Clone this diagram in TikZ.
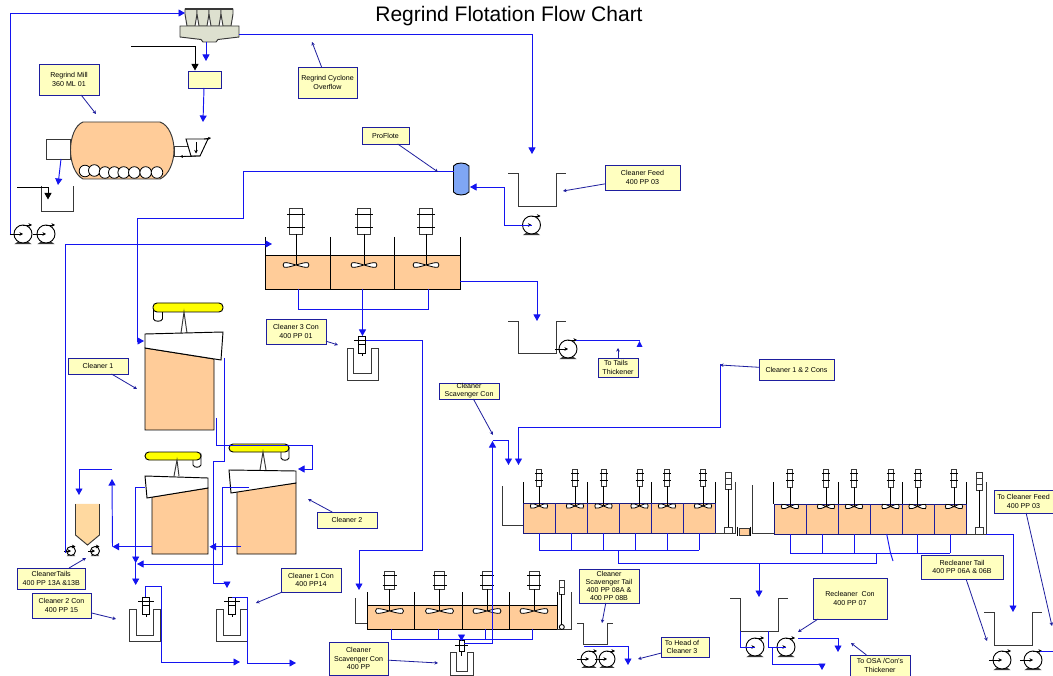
\documentclass[tikz,border=0pt]{standalone}
\usepackage{fontspec}
\setmainfont{Liberation Sans}
\usetikzlibrary{arrows.meta,calc}
\definecolor{pipeblue}{HTML}{1414F0}
\definecolor{navy}{HTML}{1E1E9E}
\definecolor{labfill}{HTML}{FFFFC0}
\definecolor{peach}{HTML}{FFCC99}
\definecolor{hopper}{HTML}{FFD9A0}
\definecolor{cyc}{HTML}{DDE0CF}
\definecolor{froth}{HTML}{FFFF00}
\definecolor{reagent}{HTML}{7FA6F5}
\definecolor{eqline}{HTML}{383838}
\tikzset{
 pipe/.style={draw=pipeblue,line width=0.95pt},
 pipea/.style={pipe,-{Triangle[length=6.5pt,width=7pt]}},
 feed/.style={draw=black,line width=0.95pt,-{Triangle[length=6.5pt,width=7pt]}},
 leader/.style={draw=navy,line width=0.8pt,-{Stealth[length=3.5pt,width=3.5pt]}},
 eq/.style={draw=eqline,line width=0.95pt},
 cell/.style={draw=black,line width=0.95pt,fill=peach},
 cellb/.style={draw=navy!80!black,line width=0.95pt,fill=peach},
 white eq/.style={draw=black,line width=0.95pt,fill=white},
 lab/.style={draw=navy,line width=0.95pt,fill=labfill,inner sep=0pt,outer sep=0pt,align=center,font=\fontsize{7.1}{8.3}\selectfont,text=black},
}
\newcommand{\lab}[6]{\node[lab,minimum width={(#4-#2)*1pt},minimum height={(#5-#3)*1pt}] (#1) at ({(#2+#4)/2},{(#3+#5)/2}) {#6};}
\newcommand{\pump}[4]{%
 \coordinate (#1) at (#2,#3);
 \fill[eqline] ({#2-0.35*#4},{#3+0.7*#4}) -- ({#2-0.95*#4},{#3+1.12*#4}) -- ({#2+0.95*#4},{#3+1.12*#4}) -- ({#2+0.35*#4},{#3+0.7*#4}) -- cycle;
 \fill[white] ({#2-0.45*#4},{#3+0.95*#4}) -- ({#2+0.45*#4},{#3+0.95*#4}) -- (#2,{#3+0.7*#4}) -- cycle;
 \draw[draw=black,line width=0.9pt,fill=white] (#1) circle ({#4*1pt});
 \draw[black,line width=0.9pt,-{Stealth[length=3.5pt,width=3.5pt]}] ({#2-1.45*#4},#3) -- (#1);
 \draw[black,line width=0.9pt,-{Stealth[length=3.5pt,width=3.5pt]}] (#2,{#3-#4}) -- ({#2+#4},{#3-#4});
}
\newcommand{\utank}[6]{\draw[eq] (#1,#5) -- (#2,#5) -- (#2,#6) -- (#3,#6) -- (#3,#5) -- (#4,#5);}
\newcommand{\impel}[4]{%
 \draw[draw=black,line width=0.8pt,fill=white] (#1,#2) .. controls ({#1+0.45*#3},{#2-0.5*#4}) and ({#1+0.8*#3},{#2-#4}) .. ({#1+#3},{#2-0.7*#4}) .. controls ({#1+1.1*#3},{#2-0.3*#4}) and ({#1+1.1*#3},{#2+0.3*#4}) .. ({#1+#3},{#2+0.7*#4}) .. controls ({#1+0.8*#3},{#2+#4}) and ({#1+0.45*#3},{#2+0.5*#4}) .. (#1,#2);
 \draw[draw=black,line width=0.8pt,fill=white] (#1,#2) .. controls ({#1-0.45*#3},{#2-0.5*#4}) and ({#1-0.8*#3},{#2-#4}) .. ({#1-#3},{#2-0.7*#4}) .. controls ({#1-1.1*#3},{#2-0.3*#4}) and ({#1-1.1*#3},{#2+0.3*#4}) .. ({#1-#3},{#2+0.7*#4}) .. controls ({#1-0.8*#3},{#2+#4}) and ({#1-0.45*#3},{#2+0.5*#4}) .. (#1,#2);
}
\newcommand{\agit}[9]{%
 \draw[eq,fill=white] ({#1-#5},#2) rectangle ({#1+#5},#3);
 \draw[black,line width=0.9pt] ({#1-#6},#7) -- ({#1+#6},#7) ({#1-#6},#8) -- ({#1+#6},#8);
 \draw[black,line width=0.9pt] (#1,#3) -- (#1,#4);
 \impel{#1}{#4}{#9}{3}
}
\newcommand{\launder}[8]{%
 \draw[eq] (#1,#5) -- (#1,#7) -- (#2,#7) -- (#2,#5) -- (#4,#5) -- (#4,#6) -- (#3,#6) -- (#3,#5) -- cycle;
}
\newcommand{\vpump}[2]{%
 \draw[black,line width=0.8pt] (#1,{#2+8}) -- (#1,{#2+20});
 \draw[black,line width=0.9pt,fill=white] ({#1-3.2},{#2+8}) rectangle ({#1+3.2},{#2+17});
 \draw[black,line width=0.9pt,fill=white] ({#1-3.8},#2) rectangle ({#1+3.8},{#2+8});
 \draw[black,line width=0.9pt] ({#1-8},{#2+4}) -- ({#1+8},{#2+4});
}
\begin{document}
\begin{tikzpicture}[x=1pt,y=-1pt]
\useasboundingbox (0,0) rectangle (1053,676);
\fill[white] (0,0) rectangle (1053,676);
\node[font=\fontsize{21}{24}\selectfont,inner sep=0pt] (title) at (509,16) {Regrind Flotation Flow Chart};

%% ---------- cyclone ----------
\foreach \x in {185,197,209,221}{
 \draw[eq,fill=cyc] (\x,9) -- ({\x+12},9) -- ({\x+12},14) -- ({\x+10},26) -- ({\x+2},26) -- (\x,14) -- cycle;}
\draw[eq,line width=1.4pt] (185,9) -- (233,9);
\draw[eq,fill=cyc] (180,26) -- (239,26) -- (239,37) -- (218,39.5) -- (216,42) -- (203,42) -- (201,39.5) -- (180,37) -- cycle;
\draw[draw=navy,line width=0.95pt,fill=labfill] (188,71) rectangle (221,88);

%% ---------- mill ----------
\draw[eq,fill=white] (46,139) rectangle (70.5,159);
\draw[eq,fill=white] (174,146) rectangle (191,156);
\draw[eq,fill=peach] (83,122) -- (160,122) .. controls (169,125) and (174,138) .. (174,150) .. controls (174,162) and (169,175) .. (160,179) -- (83,179) .. controls (75,175) and (70.5,162) .. (70.5,150) .. controls (70.5,138) and (75,125) .. (83,122) -- cycle;
\foreach \x/\y in {85/171,94.3/170.5,105/172.5,114.3/172.5,123.7/172.5,134.3/172.5,145.7/172.5,157/172.5}{
 \draw[black,line width=0.8pt,fill=white] (\x,\y) circle (5.8pt);}
\draw[black,line width=0.95pt,fill=white] (186,139) -- (208,139) -- (200,156) -- (191,156) -- cycle;
\draw[black,line width=0.8pt,-{Stealth[length=3.5pt,width=3.5pt]}] (196,142) -- (196,153.5);
\draw[black,line width=0.8pt,-{Stealth[length=3pt,width=3pt]}] (204,139) -- (211,138);
\draw[black,line width=0.8pt,-{Stealth[length=3pt,width=3pt]}] (200,156) -- (180,156.5);
\draw[eq] (41,186) -- (41,211) -- (73,211) -- (73,186);
\coordinate (wa) at (17,187); \coordinate (wb) at (48,199.5);
\draw[feed] (wa) -| (wb);
\coordinate (wc) at (131,46); \coordinate (yb) at (195,70.5);
\draw[feed] (wc) -| (yb);
\pump{pa}{23}{234}{9}
\pump{pb}{46}{234}{9}

%% ---------- reagent tank ----------
\draw[draw=black,line width=0.9pt,fill=reagent] (453.5,166) .. controls (456,162) and (466,162) .. (469,166) -- (469,192) .. controls (466,196) and (456,196) .. (453.5,192) -- cycle;
\utank{508}{518}{556}{566}{173}{206}
\pump{pc}{531.5}{225}{9}

%% ---------- cleaner 3 bank ----------
\draw[cell] (265,255) rectangle (460,289);
\draw[black,line width=0.95pt] (330.5,237) -- (330.5,289) (394.5,237) -- (394.5,289) (265,237) -- (265,255) (460,237) -- (460,255);
\agit{296}{208}{234}{265}{6.5}{9}{214}{227}{12}
\agit{364}{208}{234}{265}{6.5}{9}{214}{227}{12}
\agit{426}{208}{234}{265}{6.5}{9}{214}{227}{12}
\utank{508}{518}{556}{566}{321}{353}
\pump{pd}{568}{349}{9}
\launder{347}{378}{353}{371}{348}{373}{380}{362}
\vpump{362}{336}

%% ---------- flotation cell cleaner 1 ----------
\draw[draw=black,line width=0.9pt,fill=white] (153.5,307) -- (153.5,319) .. controls (154,322) and (162,322) .. (162.5,319) -- (162.5,307) -- cycle;
\draw[draw=black,line width=0.95pt,fill=froth,rounded corners=4pt] (153,303) rectangle (223,312);
\draw[eq] (181,333) -- (184,312) -- (187,333);
\draw[cell] (145,348) -- (214,359) -- (214,430) -- (145,430) -- cycle;
\draw[white eq] (145,334) -- (223,332) -- (221,360) -- (145,348) -- cycle;
%% cleaner 2 right
\draw[draw=black,line width=0.9pt,fill=white] (281,447) -- (281,458) .. controls (282,461) and (288,461) .. (289,458) -- (289,447) -- cycle;
\draw[draw=black,line width=0.95pt,fill=froth,rounded corners=4pt] (229,444) rectangle (289,452);
\draw[eq] (260,470) -- (263,452) -- (266,470);
\draw[cell] (237,491) -- (296,483) -- (296,554) -- (237,554) -- cycle;
\draw[white eq] (229,470) -- (296,471) -- (296,483) -- (231,493) -- cycle;
%% cleaner 2 mid
\draw[draw=black,line width=0.9pt,fill=white] (193,454) -- (193,465) .. controls (194,468) and (200,468) .. (201,465) -- (201,454) -- cycle;
\draw[draw=black,line width=0.95pt,fill=froth,rounded corners=4pt] (145,452) rectangle (201,460);
\draw[eq] (174,476) -- (177,460) -- (179,476);
\draw[cell] (152,497) -- (208,488) -- (208,554) -- (152,554) -- cycle;
\draw[white eq] (145,476) -- (208,478) -- (208,488) -- (147,498) -- cycle;
%% hopper and small pumps
\draw[draw=hopper,fill=hopper] (75.5,504) -- (99.5,504) -- (99.5,535) -- (87.5,545) -- (75.5,535) -- cycle;
\draw[eq] (75.5,504) -- (75.5,535) -- (87.5,545) -- (99.5,535) -- (99.5,504);
\pump{pe}{71}{551}{4.5}
\pump{pf}{95}{551}{4.5}
%% launders
\launder{129.5}{160}{136}{153}{609}{635}{641}{146}
\vpump{146}{597}
\launder{216.5}{247}{223}{240}{609}{635}{641}{232}
\vpump{232}{597}

%% ---------- cleaner scavenger bank ----------
\draw[cell] (367,605) rectangle (557,629);
\draw[black,line width=0.95pt] (414,592) -- (414,629) (462,592) -- (462,629) (509,592) -- (509,629) (367,592) -- (367,605) (557,592) -- (557,605);
\foreach \x in {389.5,439.5,487,534}{\agit{\x}{571}{589}{611}{5}{7}{575}{585}{13}}
\draw[eq] (355,598) -- (355,623) -- (367,623);
\draw[eq] (571,592) -- (571,629.5) -- (557,629.5);
\draw[eq,fill=white] (559.5,580) rectangle (564,594);
\draw[eq] (559.5,587) -- (564,587);
\draw[black,line width=0.9pt] (561.8,594) -- (561.8,625);
\draw[black,line width=0.9pt,fill=white] (561.8,627) circle (2.5pt);
\launder{450}{473}{456}{467}{652}{671}{675}{461.5}
\draw[black,line width=0.8pt] (461.5,650) -- (461.5,656);
\draw[black,line width=0.9pt,fill=white] (459,640) rectangle (464,651);
\draw[black,line width=0.9pt] (455,645) -- (468,645);
\utank{577}{583}{607}{613}{623}{644}
\pump{pg}{589}{659}{8}
\pump{ph}{607}{659}{8}

%% ---------- first recleaner bank ----------
\draw[cellb] (523,503) rectangle (715,533);
\foreach \x in {555.5,587.5,619.5,651.5,683.5}{\draw[navy,line width=0.9pt] (\x,503) -- (\x,533);}
\draw[black,line width=0.95pt] (523,482) -- (523,503) (587.5,482) -- (587.5,503) (651.5,482) -- (651.5,503) (715,482) -- (715,503);
\foreach \x in {539,575,603.5,639.5,667,703}{\agit{\x}{469}{486}{506}{2.5}{4}{473}{480}{8}}
\draw[eq] (502.5,486) -- (502.5,525) -- (523,525);
\draw[eq] (715,533) -- (735,533) -- (735,482);
\draw[eq,fill=white] (725,472) rectangle (731,489);
\draw[eq] (725,478) -- (731,478) (725,484) -- (731,484);
\draw[black,line width=0.9pt] (728,489) -- (728,528);
\draw[eq,fill=white] (724.5,527) rectangle (732,533);
\draw[eq,fill=peach] (739,528) rectangle (749,535);
\draw[black,line width=0.9pt] (737.5,526.5) -- (737.5,536) (750.5,526.5) -- (750.5,536);
\draw[eq] (752.7,485) -- (752.7,533.5) -- (774,533.5);

%% ---------- second recleaner bank ----------
\draw[cellb] (774,504) rectangle (966.5,534);
\foreach \x in {806,838,870.5,902,934}{\draw[navy,line width=0.9pt] (\x,504) -- (\x,534);}
\draw[black,line width=0.95pt] (773.5,482) -- (773.5,504) (838,482) -- (838,504) (902,482) -- (902,504) (966.5,482) -- (966.5,504);
\foreach \x in {790,826,854,890.5,917.5,954}{\agit{\x}{469}{487}{506.5}{2.5}{4}{473}{480}{8}}
\draw[eq] (966.5,534) -- (986,534) -- (986,482);
\draw[eq,fill=white] (976,472) rectangle (982,490);
\draw[eq] (976,478) -- (982,478) (976,484) -- (982,484);
\draw[black,line width=0.9pt] (979,490) -- (979,528);
\draw[eq,fill=white] (975.5,527.5) rectangle (983,534);
\utank{730}{740}{778}{788}{598}{631}
\pump{pi}{755}{647}{9}
\pump{pj}{786}{647}{9}
\utank{984}{994}{1032}{1042}{612}{645}
\pump{pk}{1002}{660}{9}
\pump{pl}{1033}{660}{9}

%% ---------- pipes ----------
\coordinate (cyctop) at (185,13); \draw[pipea] (pa) ++(-13,0) |- (cyctop);
\coordinate (cycr) at (239,34); \coordinate (fda) at (532,154);
\draw[pipea] (cycr) -| (fda);
\coordinate (cycb) at (206,42); \coordinate (cycc) at (206,61); \draw[pipea] (cycb) -- (cycc);
\coordinate (yba) at (204,88); \coordinate (ybb) at (203,122); \draw[pipea] (yba) -- (ybb);
\coordinate (milla) at (61,159); \coordinate (millb) at (58,185); \draw[pipea] (milla) -- (millb);
\coordinate (ce) at (272,244); \coordinate (pe2) at (66,552);
\draw[pipea] (pe2) -- (65,552) -- (65,244) -- (ce);
\coordinate (rg) at (453.5,171.5); \coordinate (ca) at (144,341);
\draw[pipea] (rg) -- (243.5,171.5) -- (243.5,218) -- (137,218) -- (137,341) -- (ca);
\coordinate (rgb) at (470,187);
\draw[pipea] (pc) -- (504,225) -- (504,187) -- (rgb);
\coordinate (t3a) at (298,289); \coordinate (t3b) at (428,289); \coordinate (t3c) at (362.5,289); \coordinate (t3d) at (362.5,336);
\draw[pipe] (t3a) -- (298,309) -- (428,309) -- (t3b);
\draw[pipea] (t3c) -- (t3d);
\coordinate (t3r) at (460,281); \coordinate (t3e) at (537,321); \draw[pipea] (t3r) -| (t3e);
\coordinate (pdo) at (576,340); \coordinate (pdt) at (639.5,341);
\draw[pipe] (pdo) -- (639.5,340);
\draw[fill=pipeblue,draw=none] (636.5,347) -- (639.5,341) -- (642.5,347) -- cycle;
\coordinate (vp3) at (366,340); \coordinate (csf) at (359,590);
\draw[pipea] (vp3) -- (422,340) -- (422,550) -- (359,550) -- (csf);
\coordinate (c1a) at (224.5,358); \coordinate (c1b) at (227,588);
\draw[pipea] (c1a) -- (224.5,461) -- (213.5,461) -- (213.5,583) -- (227,583) -- (c1b);
\coordinate (c1c) at (216.7,418); \coordinate (c2f) at (298,469);
\draw[pipea] (c1c) -- (216.7,445) -- (312,445) -- (312,469) -- (c2f);
\coordinate (c2a) at (249,487); \coordinate (c2b) at (137,564);
\draw[pipea] (c2a) -- (222.7,487) -- (222.7,564) -- (c2b);
\coordinate (c2c) at (144.5,487); \coordinate (c2d) at (135.7,585); \coordinate (c2e) at (135.7,563);
\draw[pipea] (c2c) -- (135.7,487) -- (c2d);
\draw[pipea] (135.7,550) -- (c2e);
\coordinate (c2g) at (152,546.7); \coordinate (c2h) at (112.5,546.7); \coordinate (c2i) at (112,479);
\draw[pipea] (c2g) -- (c2h);
\draw[pipea] (c2h) -- (c2i);
\coordinate (c2j) at (241,546.7); \coordinate (c2k) at (209.5,546.7); \draw[pipea] (c2j) -- (c2k);
\coordinate (hpa) at (112,469); \coordinate (hpb) at (79,495); \draw[pipea] (hpa) -| (hpb);
\coordinate (la) at (145.5,597); \coordinate (lb) at (240,662);
\draw[pipea] (la) -- (145.5,586) -- (161,586) -- (161,662) -- (lb);
\coordinate (lc) at (232,597.5); \coordinate (ld) at (296,663);
\draw[pipea] (lc) -- (247,597.5) -- (247,663) -- (ld);
\coordinate (sa) at (391,629); \coordinate (sb) at (532,629); \coordinate (sc) at (438,629); \coordinate (sd) at (485.5,629);
\draw[pipe] (sa) -- (391,639) -- (532,639) -- (sb) (sc) -- (438,639) (sd) -- (485.5,639);
\coordinate (se) at (461.5,636); \coordinate (sf) at (461.5,641); \draw[pipea] (se) -- (sf);
\coordinate (sg) at (464,643); \coordinate (sh) at (492.5,441);
\draw[pipea] (sg) -| (sh);
\coordinate (si) at (492.5,440); \coordinate (sj) at (508.5,465);
\draw[pipea] (si) -| (sj);
\coordinate (ta) at (720,364.5); \coordinate (tb) at (518.5,465);
\draw[pipea] (ta) -- (720,427) -- (518.5,427) -- (tb);
\foreach \x in {539,571.5,603.5,635.5,667.5,699}{\draw[pipe] (\x,533) -- (\x,550);}
\draw[pipe] (539,550) -- (699,550);
\foreach \x in {790,822,854.5,917.5,950}{\draw[pipe] (\x,534) -- (\x,553);}
\draw[pipe] (790,553) -- (950,553);
\draw[pipe] (886.7,534) -- (890.5,553) -- (893,561);
\coordinate (ua) at (618,550); \coordinate (ub) at (876.5,553);
\draw[pipe] (ua) -- (618,563) -- (876.5,563) -- (ub);
\coordinate (uc) at (759,563); \coordinate (ud) at (759,597); \draw[pipea] (uc) -- (ud);
\coordinate (ue) at (986,534); \coordinate (uf) at (1013,612); \draw[pipea] (ue) -| (uf);
\coordinate (ga) at (740,631); \draw[pipe] (ga) |- (pi);
\coordinate (gb) at (768,631); \draw[pipe] (gb) |- (pj);
\coordinate (gc) at (772,648); \coordinate (gd) at (822,670);
\draw[pipea] (gc) -- (772,664) -- (822,664) -- (gd);
\coordinate (ge) at (798,638.5); \coordinate (gf) at (838,652); \draw[pipea] (ge) -| (gf);
\coordinate (ha) at (584,646.5); \coordinate (hb) at (628,665); \draw[pipea] (ha) -| (hb);
\coordinate (ka) at (1040,651); \coordinate (kb) at (1053,651); \draw[pipe] (ka) -- (kb);

%% ---------- labels ----------
\lab{lmill}{39}{64}{99}{95}{Regrind Mill\\360 ML 01}
\lab{lover}{298}{67}{357}{98}{Regrind Cyclone\\Overflow}
\lab{lpro}{362}{127}{409}{144}{ProFlote}
\lab{lfeed}{605}{165}{680}{190}{Cleaner Feed\\400 PP 03}
\lab{lc3}{266}{319}{326}{344}{Cleaner 3 Con\\400 PP 01}
\lab{ltails}{598}{358}{638}{377}{\hspace*{-4pt}To Tails\\Thickener}
\lab{lc1c2}{759}{359}{834}{380}{Cleaner 1 \& 2 Cons}
\lab{lscav}{439}{383}{499}{399}{\raisebox{2.5pt}{\parbox{60pt}{\centering Cleaner\\Scavenger Con}}}
\lab{lc1}{68}{358}{128}{374}{Cleaner 1}
\lab{lc2}{317}{512}{377}{528}{Cleaner 2}
\lab{ltail}{17.5}{568}{85}{589}{CleanerTails\\400 PP 13A \&13B}
\lab{lc2c}{32}{593}{91}{618}{Cleaner 2 Con\\400 PP 15}
\lab{lc1c}{281}{568}{341}{592}{Cleaner 1 Con\\400 PP14}
\lab{lscon}{329}{642}{388}{675}{Cleaner\\Scavenger Con\\400 PP}
\lab{lstail}{579}{569}{639}{603}{Cleaner\\Scavenger Tail\\400 PP 08A \&\\400 PP 08B}
\lab{lhead}{661}{637}{709}{657}{\hspace*{-6pt}To Head of\\[-0.5pt]\hspace*{-6pt}Cleaner 3}
\lab{lrec}{813}{578}{887}{619}{Recleaner~ Con\\400 PP 07}
\lab{losa}{850}{655}{910}{676}{To OSA /Con's\\Thickener}
\lab{lrect}{921}{555}{1003}{579}{Recleaner Tail\\400 PP 06A \& 06B}
\lab{ltcf}{994}{490}{1053}{513}{To Cleaner Feed\\400 PP 03}

%% ---------- leaders ----------
\coordinate (e1) at (96,114); \draw[leader] (lmill) -- (e1);
\coordinate (e2) at (312,42); \draw[leader] (lover) -- (e2);
\coordinate (e3) at (438,172); \draw[leader] (lpro) -- (e3);
\coordinate (e4) at (563,191); \draw[leader] (lfeed) -- (e4);
\coordinate (e5) at (338,345); \draw[leader] (lc3) -- (e5);
\coordinate (e6) at (618,348); \draw[leader] (ltails) -- (e6);
\coordinate (e7) at (720,365); \draw[leader] (lc1c2) -- (e7);
\coordinate (e8) at (493,435); \draw[leader] (lscav) -- (e8);
\coordinate (e9) at (137,389); \draw[leader] (lc1) -- (e9);
\coordinate (e10) at (308,499); \draw[leader] (lc2) -- (e10);
\coordinate (e11) at (86,558); \draw[leader] (ltail) -- (e11);
\coordinate (e12) at (116,619); \draw[leader] (lc2c) -- (e12);
\coordinate (e13) at (256,603); \draw[leader] (lc1c) -- (e13);
\coordinate (e14) at (438,663); \draw[leader] (lscon) -- (e14);
\coordinate (e15) at (602,623); \draw[leader] (lstail) -- (e15);
\coordinate (e16) at (638,659); \draw[leader] (lhead) -- (e16);
\coordinate (e17) at (798,632); \draw[leader] (lrec) -- (e17);
\coordinate (e18) at (851,643); \draw[leader] (losa) -- (e18);
\coordinate (e19) at (987,641); \draw[leader] (lrect) -- (e19);
\coordinate (e20) at (1052,626); \draw[leader] (ltcf) -- (e20);
\end{tikzpicture}
\end{document}
